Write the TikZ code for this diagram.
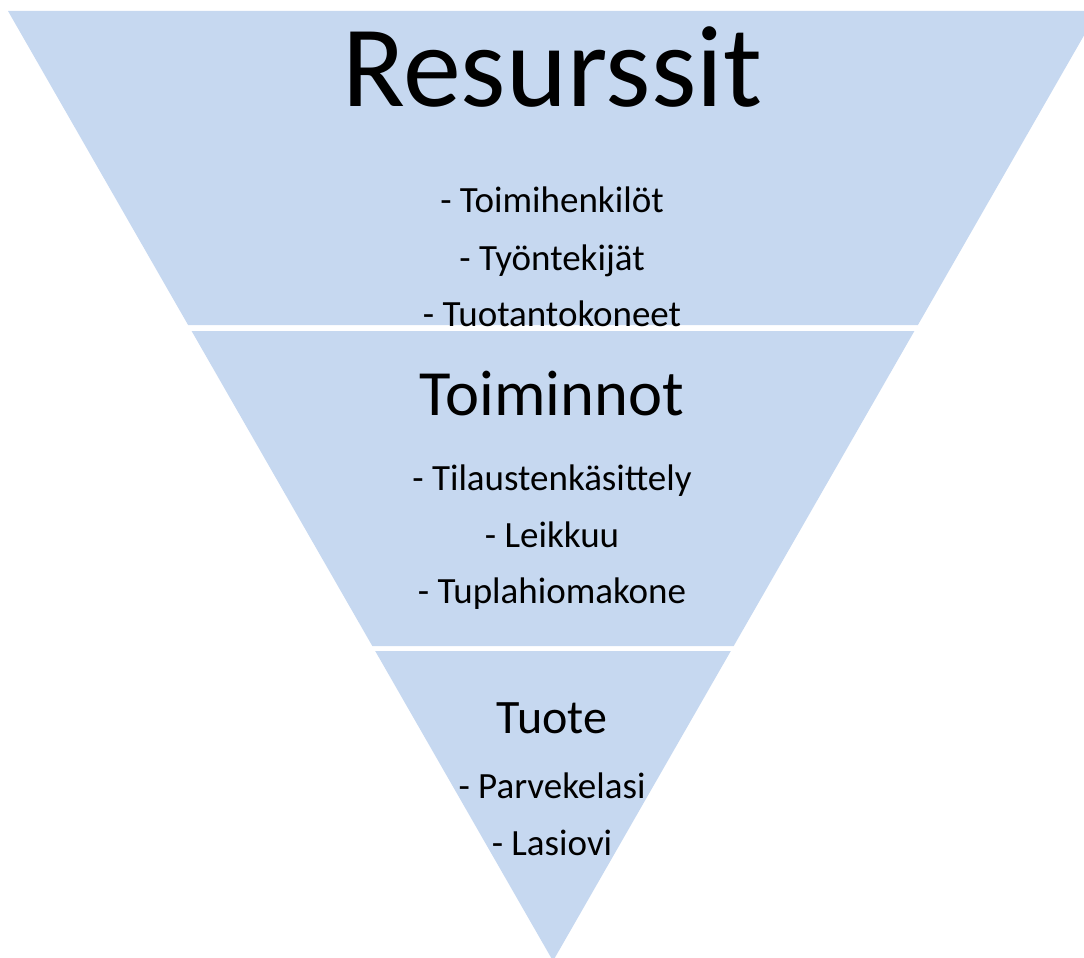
\documentclass[tikz,border=0pt]{standalone}
\usepackage{fontspec}
\setmainfont{Carlito}
\usetikzlibrary{positioning}
\definecolor{bandblue}{RGB}{198,216,240}

\begin{document}
\begin{tikzpicture}
    [%%%%%%%%%%%%%%%%%%%%%%%%%%%%%%
    x=1pt,y=-1pt,
    band/.style={fill=bandblue},
    heading/.style={anchor=base,inner sep=0pt,font=\fontsize{64.5}{64.5}\selectfont},
    item/.style={anchor=base,inner sep=0pt,font=\fontsize{37}{37}\selectfont},
    ]%%%%%%%%%%%%%%%%%%%%%%%%%%%%%%

    \useasboundingbox (0,0) rectangle (1084,958);
    \clip (0,0) rectangle (1084,958);


    % resources
    \fill[band] (8,11) -- (1098,11) -- (917.9,325) -- (188.1,325) -- cycle;
    \node[heading,font=\fontsize{116}{116}\selectfont] at (552,106) (resurssit) {Resurssit};
    \node[item] at (552,212) (toimihenkilot) {- Toimihenkilöt};
    \node[item] at (552,270) (tyontekijat) {- Työntekijät};
    \node[item] at (552,326) (tuotantokoneet) {- Tuotantokoneet};

    % operations
    \fill[band] (191.6,331) -- (914.4,331) -- (733.7,646) -- (372.3,646) -- cycle;
    \node[heading] at (552,415) (toiminnot) {Toiminnot};
    \node[item] at (552,490) (tilaukset) {- Tilaustenkäsittely};
    \node[item] at (552,547) (leikkuu) {- Leikkuu};
    \node[item] at (552,603) (hiomakone) {- Tuplahiomakone};

    % product
    \fill[band] (375.2,651) -- (730.8,651) -- (553,961) -- cycle;
    \node[heading,font=\fontsize{48}{48}\selectfont] at (552,733) (tuote) {Tuote};
    \node[item] at (552,798) (parvekelasi) {- Parvekelasi};
    \node[item] at (552,855) (lasiovi) {- Lasiovi};

\end{tikzpicture}
\end{document}
